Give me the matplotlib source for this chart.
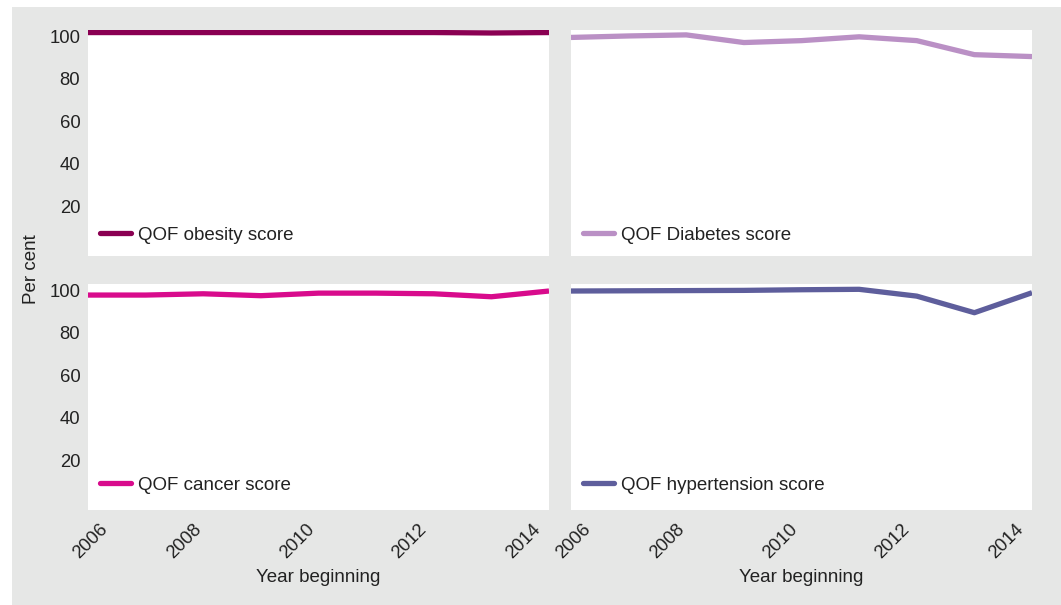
import matplotlib.pyplot as plt
from matplotlib.patches import Rectangle

plt.rcParams['font.family'] = ['Liberation Sans', 'DejaVu Sans']

years = [2006, 2007, 2008, 2009, 2010, 2011, 2012, 2013, 2014]

obesity = [101.8, 101.8, 101.8, 101.8, 101.8, 101.8, 101.8, 101.6, 101.8]
diabetes = [99.5, 100.2, 100.7, 97.1, 98.0, 99.8, 98.0, 91.4, 90.5]
cancer = [97.8, 97.8, 98.4, 97.5, 98.7, 98.7, 98.4, 97.0, 99.7]
hypertension = [99.7, 99.8, 99.9, 100.0, 100.3, 100.5, 97.3, 89.5, 98.9]

tick_labels = ["2006", "2008", "2010", "2012", "2014"]
# labels in the original sit a little off the yearly grid
tick_pos = [2006.05, 2007.68, 2009.63, 2011.58, 2013.55]

series = [
    ("QOF obesity score", obesity, "#8a0052"),
    ("QOF Diabetes score", diabetes, "#ba90c5"),
    ("QOF cancer score", cancer, "#d80b8c"),
    ("QOF hypertension score", hypertension, "#5e5e9c"),
]

W, H = 1061, 605
fig = plt.figure(figsize=(W / 100, H / 100), dpi=100)
fig.patches.append(Rectangle((12 / W, 0), 1 - 12 / W, 1 - 7 / H,
                             transform=fig.transFigure, facecolor="#e6e7e6",
                             edgecolor="none", zorder=-10))

lefts = [88, 571]
tops = [30, 284]
leg_y = [21, 25]
pw, ph = 461, 226
txt = "#222222"

for i, (name, vals, col) in enumerate(series):
    r, c = divmod(i, 2)
    x0 = lefts[c] / W
    y0 = 1 - (tops[r] + ph) / H
    ax = fig.add_axes([x0, y0, pw / W, ph / H])
    ax.plot(years, vals, color=col, lw=3.8, label=name, solid_capstyle="butt")
    ax.set_xlim(2006, 2014)
    ax.set_ylim(-3.3, 103)
    for s in ax.spines.values():
        s.set_visible(False)
    ax.set_yticks([20, 40, 60, 80, 100])
    ax.set_xticks(tick_pos)
    ax.set_xticklabels(tick_labels)
    ax.tick_params(length=0, labelsize=13.3, colors=txt, pad=5.5)
    if c == 1:
        ax.set_yticklabels([])
    if r == 0:
        ax.set_xticklabels([])
    else:
        plt.setp(ax.get_xticklabels(), rotation=45, ha="center")
        ax.tick_params(axis="x", pad=8)
        ax.set_xlabel("Year beginning", fontsize=13.5, color=txt, labelpad=5)
    leg = ax.legend(loc="center left", frameon=False, fontsize=13.5,
                    handlelength=1.65, handletextpad=0.4, borderpad=0,
                    borderaxespad=0, bbox_to_anchor=(12 / pw, leg_y[r] / ph))
    for line in leg.get_lines():
        line.set_solid_capstyle("round")
    for t in leg.get_texts():
        t.set_color(txt)

fig.text(31 / W, 1 - 269 / H, "Per cent", rotation=90, ha="center", va="center",
         fontsize=13.5, color=txt)

fig.savefig("out.png", dpi=100)
